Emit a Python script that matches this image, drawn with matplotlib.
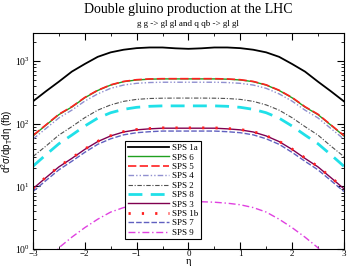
import matplotlib
matplotlib.use("Agg")
import matplotlib.pyplot as plt
from matplotlib.ticker import MultipleLocator, LogLocator

plt.rcParams['font.family'] = ['Liberation Serif', 'DejaVu Serif']
plt.rcParams['mathtext.fontset'] = 'custom'
plt.rcParams['mathtext.rm'] = 'Liberation Serif'
plt.rcParams['mathtext.it'] = 'Liberation Serif:italic'
plt.rcParams['mathtext.default'] = 'regular'

eta = [-3.0, -2.75, -2.5, -2.25, -2.0, -1.75, -1.5, -1.25, -1.0, -0.75, -0.5, -0.25, 0.0,
       0.25, 0.5, 0.75, 1.0, 1.25, 1.5, 1.75, 2.0, 2.25, 2.5, 2.75, 3.0]

sps1a = [228, 330, 470, 680, 900, 1170, 1380, 1520, 1610, 1650, 1650, 1600, 1570,
         1600, 1650, 1650, 1610, 1520, 1380, 1170, 900, 680, 470, 330, 228]
sps6 = [64, 95, 140, 185, 260, 340, 415, 470, 500, 515, 520, 520, 520,
        520, 520, 515, 500, 470, 415, 340, 260, 185, 140, 95, 64]
sps5 = [65, 96, 142, 187, 263, 343, 418, 474, 505, 519, 524, 524, 524,
        524, 524, 519, 505, 474, 418, 343, 263, 187, 142, 96, 65]
sps4 = [57, 84, 124, 165, 230, 300, 368, 415, 442, 455, 460, 460, 460,
        460, 460, 455, 442, 415, 368, 300, 230, 165, 124, 84, 57]
sps2 = [30, 44, 66, 90, 125, 165, 200, 228, 245, 253, 256, 257, 257,
        257, 256, 253, 245, 228, 200, 165, 125, 90, 66, 44, 30]
sps8 = [21, 32, 48, 66, 92, 123, 150, 170, 183, 190, 193, 193, 193,
        193, 193, 190, 183, 170, 150, 123, 92, 66, 48, 32, 21]
sps3 = [9.2, 13.8, 20.5, 28, 39, 52, 64, 74, 80, 83, 85, 85, 85,
        85, 85, 83, 80, 74, 64, 52, 39, 28, 20.5, 13.8, 9.2]
sps1b = [9.3, 14.0, 20.8, 28.5, 39.5, 52.5, 64.5, 75, 81, 84, 86, 86, 86,
         86, 86, 84, 81, 75, 64.5, 52.5, 39.5, 28.5, 20.8, 14.0, 9.3]
sps7 = [8.3, 12.4, 18.4, 25.2, 35, 47, 57.6, 66.6, 72, 74.7, 76.5, 76.5, 76.5,
        76.5, 76.5, 74.7, 72, 66.6, 57.6, 47, 35, 25.2, 18.4, 12.4, 8.3]
sps9 = [0.22, 0.48, 1.05, 1.55, 2.2, 3.0, 3.9, 4.6, 5.1, 5.4, 5.6, 5.7, 5.7,
        5.7, 5.6, 5.4, 5.1, 4.6, 3.9, 3.0, 2.2, 1.55, 1.05, 0.48, 0.22]

fig = plt.figure(figsize=(3.47, 2.69), dpi=100)
ax = fig.add_axes([0.095, 0.074, 0.896, 0.803])

ax.plot(eta, sps1a, color='black', lw=1.3, label='SPS 1a')
ax.plot(eta, sps6, color='#20a020', lw=1.0, label='SPS 6')
ax.plot(eta, sps5, color='#ff2020', lw=1.2, dashes=(5, 2), label='SPS 5')
ax.plot(eta, sps4, color='#9090d0', lw=1.0, dashes=(4, 1.5, 1, 1.5, 1, 1.5), label='SPS 4')
ax.plot(eta, sps2, color='#505050', lw=0.8, dashes=(4, 1.5, 1, 1.5), label='SPS 2')
ax.plot(eta, sps8, color='#20e0e8', lw=2.0, dashes=(5, 3), label='SPS 8')
ax.plot(eta, sps3, color='#800050', lw=1.0, label='SPS 3')
ax.plot(eta, sps1b, color='#ff2020', lw=2.0, dashes=(0.8, 4), label='SPS 1b')
ax.plot(eta, sps7, color='#6060c0', lw=1.0, dashes=(4, 1.5), label='SPS 7')
ax.plot(eta, sps9, color='#e040e0', lw=1.0, dashes=(5, 2, 1, 2), label='SPS 9')

ax.set_yscale('log')
ax.set_xlim(-3, 3)
ax.set_ylim(1, 2800)
ax.xaxis.set_major_locator(MultipleLocator(1))
ax.xaxis.set_minor_locator(MultipleLocator(0.5))
ax.yaxis.set_major_locator(LogLocator(base=10, numticks=10))
ax.yaxis.set_minor_locator(LogLocator(base=10, subs=range(2, 10), numticks=10))
ax.tick_params(which='both', direction='in', top=True, right=True, labelsize=7)
ax.tick_params(axis='x', labelsize=6.5, pad=1)
ax.tick_params(axis='y', pad=2)
ax.tick_params(which='major', length=5, width=0.8)
ax.tick_params(which='minor', length=2.5, width=0.6)

ax.set_xlabel(r'$\eta$', fontsize=7.5, labelpad=-1)
ax.set_ylabel(r'd$^2\sigma$/dp$_T$d$\eta$ (fb)', fontsize=7,
              family=['Liberation Sans', 'DejaVu Sans'], labelpad=0.5)

fig.text(0.543, 0.965, 'Double gluino production at the LHC', ha='center', va='center', fontsize=10)
fig.text(0.543, 0.912, 'g g -> gl gl and q qb -> gl gl', ha='center', va='center', fontsize=6.5)

leg = ax.legend(loc='upper left', bbox_to_anchor=(0.297, 0.5), fontsize=6.5,
                frameon=True, fancybox=False, edgecolor='black', framealpha=1,
                handlelength=4.5, handletextpad=0.4, labelspacing=0.12,
                borderpad=0.3, borderaxespad=0)
leg.get_frame().set_linewidth(0.8)

fig.savefig('out.png', dpi=100)
